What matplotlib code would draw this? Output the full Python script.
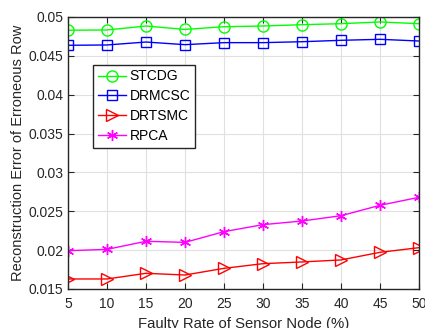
import matplotlib
matplotlib.use("Agg")
import matplotlib.pyplot as plt

rate = [5, 10, 15, 20, 25, 30, 35, 40, 45, 50]
stcdg = [0.0483, 0.04833, 0.04884, 0.0484, 0.04875, 0.04884, 0.04901, 0.04914, 0.04936, 0.04914]
drmcsc = [0.04636, 0.0464, 0.04678, 0.04644, 0.0467, 0.0467, 0.04682, 0.047, 0.04713, 0.04691]
drtsmc = [0.01629, 0.01629, 0.01702, 0.0168, 0.01766, 0.01826, 0.01848, 0.01874, 0.01972, 0.02032]
rpca = [0.01993, 0.0201, 0.02114, 0.0210, 0.02238, 0.02328, 0.02375, 0.02443, 0.02577, 0.0268]

plt.rcParams['font.family'] = ['Liberation Sans', 'DejaVu Sans']

fig = plt.figure(figsize=(4.25, 3.28), dpi=100)
ax = fig.add_axes([68 / 425, 1 - 289 / 328, (419 - 68) / 425, (289 - 17) / 328])

ax.plot(rate, stcdg, color=(0, 1, 0), marker='o', markersize=8, mfc='none', lw=1, label='STCDG')
ax.plot(rate, drmcsc, color=(0, 0, 1), marker='s', markersize=7, mfc='none', lw=1, label='DRMCSC')
ax.plot(rate, drtsmc, color=(1, 0, 0), marker='>', markersize=8, mfc='none', lw=1, label='DRTSMC')
ax.plot(rate, rpca, color=(1, 0, 1), marker=(6, 2, 0), markersize=8, lw=1, label='RPCA')

ax.set_xlim(5, 50)
ax.set_ylim(0.015, 0.05)
ax.set_xticks(rate)
ax.set_yticks([0.015, 0.02, 0.025, 0.03, 0.035, 0.04, 0.045, 0.05])
ax.set_yticklabels(['0.015', '0.02', '0.025', '0.03', '0.035', '0.04', '0.045', '0.05'])
ax.tick_params(direction='in', top=True, right=True, labelsize=10, colors='#262626', length=4)
ax.tick_params(axis='x', pad=6)
ax.grid(True, color='#e0e0e0', lw=0.8)
for s in ax.spines.values():
    s.set_color('#262626')
    s.set_linewidth(1)

ax.set_xlabel('Faulty Rate of Sensor Node (%)', fontsize=10.7, color='#262626', labelpad=4)
ax.set_ylabel('Reconstruction Error of Erroneous Row', fontsize=10.5, color='#262626', labelpad=2)

leg = ax.legend(loc='upper left', bbox_to_anchor=(0.072, 0.825), fontsize=10, fancybox=False,
                edgecolor='#262626', framealpha=1, borderpad=0.35, labelspacing=0.42,
                handlelength=2.0, handletextpad=0.25, borderaxespad=0)
leg.get_frame().set_linewidth(1)

fig.savefig('out.png', dpi=100)
